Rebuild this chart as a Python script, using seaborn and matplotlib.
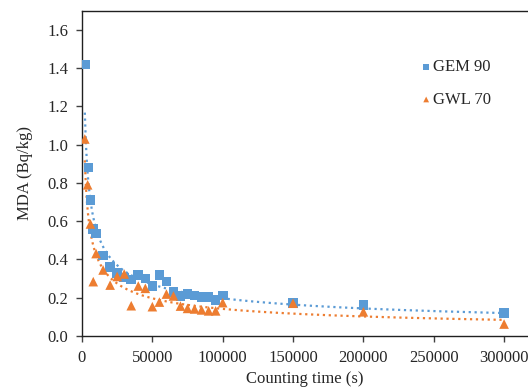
import numpy as np
import pandas as pd
import matplotlib
matplotlib.use("Agg")
import matplotlib.pyplot as plt
import seaborn as sns

# Data
gem_time = [2000, 4500, 6000, 8000, 10000, 15000, 20000, 25000, 30000, 35000,
            40000, 45000, 50000, 55000, 60000, 65000, 70000, 75000, 80000,
            85000, 90000, 95000, 100000, 150000, 200000, 300000]
gem_mda = [1.42, 0.88, 0.71, 0.56, 0.535, 0.42, 0.36, 0.327, 0.304, 0.295,
           0.318, 0.30, 0.26, 0.318, 0.283, 0.23, 0.208, 0.218, 0.21,
           0.204, 0.204, 0.187, 0.21, 0.17, 0.162, 0.12]

gwl_time = [2000, 4000, 6000, 8000, 10000, 15000, 20000, 25000, 30000, 35000,
            40000, 45000, 50000, 55000, 60000, 65000, 70000, 75000, 80000,
            85000, 90000, 95000, 100000, 150000, 200000, 300000]
gwl_mda = [1.03, 0.79, 0.585, 0.283, 0.43, 0.344, 0.265, 0.31, 0.323, 0.157,
           0.26, 0.248, 0.152, 0.176, 0.218, 0.208, 0.155, 0.143, 0.14,
           0.135, 0.13, 0.13, 0.173, 0.17, 0.125, 0.061]

blue = "#5B9BD5"
orange = "#ED7D31"

sns.set_style("ticks")
plt.rcParams["font.family"] = ["Liberation Serif", "DejaVu Serif"]

fig = plt.figure(figsize=(5.28, 3.89), dpi=100)
ax = fig.add_axes([82 / 528, 1 - 335.7 / 389, 446 / 528, (335.7 - 11) / 389])

df_gem = pd.DataFrame({"t": gem_time, "mda": gem_mda})
df_gwl = pd.DataFrame({"t": gwl_time, "mda": gwl_mda})


# Power trendlines (least squares in log-log space)
def power_fit(t, y):
    b, loga = np.polyfit(np.log(t), np.log(y), 1)
    xs = np.linspace(min(t), max(t), 400)
    return pd.DataFrame({"t": xs, "mda": np.exp(loga) * xs ** b})


sns.lineplot(data=power_fit(gem_time, gem_mda), x="t", y="mda", color=blue,
             linestyle=":", linewidth=1.6, ax=ax)
sns.lineplot(data=power_fit(gwl_time, gwl_mda), x="t", y="mda", color=orange,
             linestyle=":", linewidth=1.6, ax=ax)
sns.scatterplot(data=df_gem, x="t", y="mda", marker="s", s=48, color=blue,
                edgecolor="none", label="GEM 90", ax=ax, zorder=3)
sns.scatterplot(data=df_gwl, x="t", y="mda", marker="^", s=48, color=orange,
                edgecolor="none", label="GWL 70", ax=ax, zorder=3)

ax.set_xlim(0, 317000)
ax.set_ylim(0, 1.70)
ax.set_xticks([0, 50000, 100000, 150000, 200000, 250000, 300000])
ax.set_yticks(np.arange(0, 1.61, 0.2))
ax.set_yticklabels([f"{v:.1f}" for v in np.arange(0, 1.61, 0.2)])
ax.tick_params(axis="both", labelsize=12, length=4, width=1, color="#404040",
               pad=6)
ax.set_xlabel("Counting time (s)", fontsize=12, labelpad=4)
ax.set_ylabel("MDA (Bq/kg)", fontsize=12, labelpad=10)
for side in ["left", "bottom", "top"]:
    ax.spines[side].set_color("#202020")
    ax.spines[side].set_linewidth(1.0)
ax.spines["right"].set_visible(False)

ax.legend(loc="center left", bbox_to_anchor=(422 / 528, 1 - 83.5 / 389),
          bbox_transform=fig.transFigure, frameon=False, fontsize=12,
          handlelength=0.5, handletextpad=0.15, labelspacing=1.0,
          markerscale=0.6, borderpad=0, borderaxespad=0)

fig.savefig("out.png", dpi=100)
